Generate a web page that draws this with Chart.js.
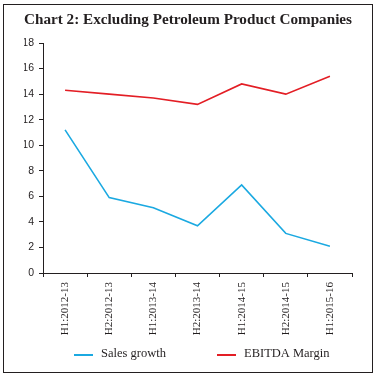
<!DOCTYPE html>
<html>
<head>
<meta charset="utf-8">
<script src="https://cdn.jsdelivr.net/npm/chart.js@4/dist/chart.umd.min.js"></script>
<style>
  html, body { margin: 0; padding: 0; background: #ffffff; }
  #wrap { position: relative; width: 376px; height: 377px; }
</style>
</head>
<body>
<div id="wrap"><canvas id="c" width="376" height="377"></canvas></div>
<script>
const categories = ["H1:2012-13", "H2:2012-13", "H1:2013-14", "H2:2013-14", "H1:2014-15", "H2:2014-15", "H1:2015-16"];
const salesGrowth = [11.2, 5.9, 5.1, 3.7, 6.9, 3.1, 2.1];
const ebitdaMargin = [14.3, 14.0, 13.7, 13.2, 14.8, 14.0, 15.4];
const yTicks = [0, 2, 4, 6, 8, 10, 12, 14, 16, 18];
const titleText = "Chart 2: Excluding Petroleum Product Companies";

const frame = {
  id: 'frame',
  beforeDraw(chart) {
    const ctx = chart.ctx;
    ctx.save();
    ctx.fillStyle = '#ffffff';
    ctx.fillRect(0, 0, chart.width, chart.height);
    ctx.strokeStyle = '#231f20';
    ctx.lineWidth = 1;
    ctx.strokeRect(3.5, 4.5, 369, 368);
    ctx.restore();
  }
};

const customLegend = {
  id: 'customLegend',
  afterDraw(chart) {
    const ctx = chart.ctx;
    const starts = [74, 217];
    const y = 354;
    ctx.save();
    ctx.font = '12.5px "Liberation Serif", serif';
    ctx.textBaseline = 'middle';
    ctx.textAlign = 'left';
    chart.data.datasets.forEach((ds, i) => {
      const x = starts[i];
      ctx.strokeStyle = ds.borderColor;
      ctx.lineWidth = 2;
      ctx.beginPath();
      ctx.moveTo(x, y + 1);
      ctx.lineTo(x + 19, y + 1);
      ctx.stroke();
      ctx.fillStyle = '#231f20';
      ctx.fillText(ds.label, x + 27, y);
    });
    ctx.restore();
  }
};

new Chart(document.getElementById('c'), {
  type: 'line',
  data: {
    labels: categories,
    datasets: [
      { label: 'Sales growth', data: salesGrowth, borderColor: '#1ba9e1', borderWidth: 1.6, pointRadius: 0, tension: 0, fill: false },
      { label: 'EBITDA Margin', data: ebitdaMargin, borderColor: '#e31e25', borderWidth: 1.6, pointRadius: 0, tension: 0, fill: false }
    ]
  },
  options: {
    responsive: false,
    animation: false,
    layout: { padding: { left: 24, right: 24, top: 0, bottom: 34 } },
    plugins: {
      legend: { display: false },
      tooltip: { enabled: false },
      title: {
        display: true,
        text: titleText,
        color: '#231f20',
        font: { family: '"Liberation Serif", serif', size: 15.2, weight: 'bold' },
        padding: { top: 10.5, bottom: 14.3 }
      }
    },
    scales: {
      x: {
        offset: true,
        grid: { display: true, offset: true, drawOnChartArea: false, tickLength: 4, color: '#231f20', lineWidth: 1 },
        border: { display: true, color: '#231f20', width: 1 },
        ticks: {
          color: '#231f20',
          font: { family: '"Liberation Serif", serif', size: 11 },
          minRotation: 90, maxRotation: 90, padding: 5, autoSkip: false
        },
        afterFit(scale) { scale.height = 70; }
      },
      y: {
        min: 0, max: 18,
        afterBuildTicks(scale) { scale.ticks = yTicks.map(v => ({ value: v })); },
        grid: { display: true, drawOnChartArea: false, tickLength: 4, color: '#231f20', lineWidth: 1 },
        border: { display: true, color: '#231f20', width: 1 },
        ticks: {
          color: '#231f20',
          font: { family: '"Liberation Sans", sans-serif', size: 10.5 },
          padding: 5
        },
        afterFit(scale) { scale.width = 19; }
      }
    }
  },
  plugins: [frame, customLegend]
});
</script>
</body>
</html>
